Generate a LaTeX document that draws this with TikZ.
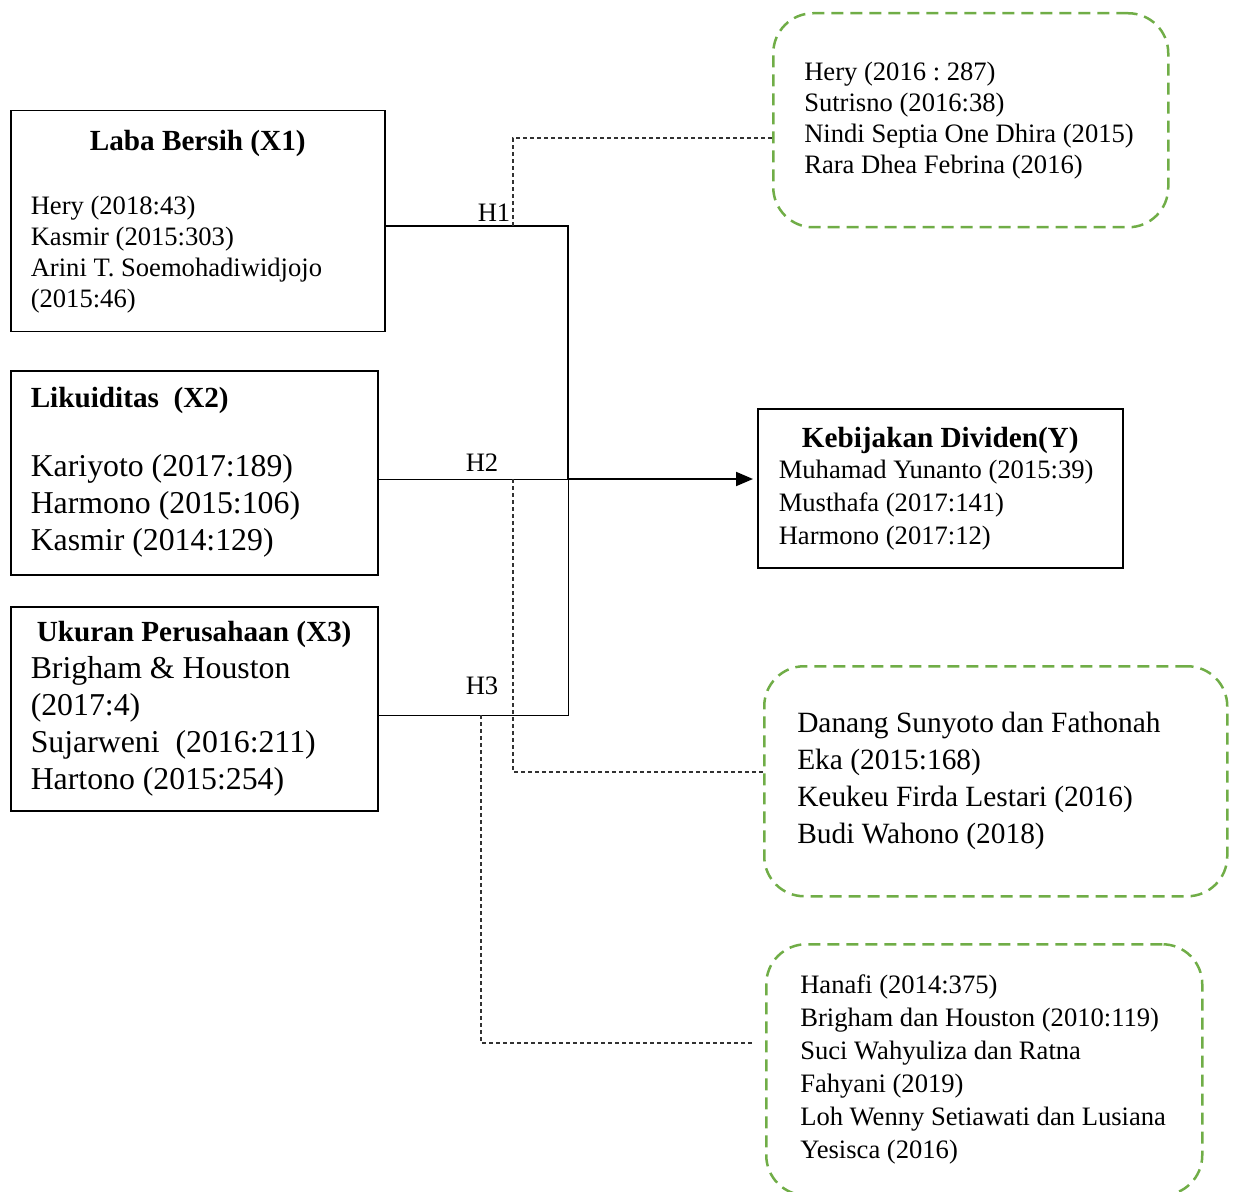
\documentclass[tikz,border=0pt]{standalone}
\usepackage{fontspec}
\setmainfont{Liberation Serif}
\frenchspacing
\usetikzlibrary{arrows.meta}
\definecolor{refgreen}{RGB}{112,173,71}
\definecolor{refgray}{RGB}{50,50,50}
\newcommand{\txtsmall}{\fontsize{13.3}{15.5}\selectfont}
\newcommand{\txtbig}{\fontsize{15.9}{18.5}\selectfont}
\newcommand{\txthead}{\fontsize{14.6}{17}\selectfont\bfseries}
\newcommand{\midtitle}[1]{\hspace*{-\leftskip}\makebox[\linewidth]{\txthead #1}}

\begin{document}
\begin{tikzpicture}[x=0.5pt, y=-0.5pt,
	varbox/.style={draw, line width=0.75pt, anchor=north west, align=flush left, inner xsep=3pt, inner ysep=0pt, font=\txtsmall},
	refbox/.style={draw=refgreen, line width=1.25pt, dash pattern=on 6pt off 3.5pt, rounded corners=20pt, anchor=north west, align=flush left, inner xsep=3pt, inner ysep=0pt, font=\txtsmall},
	mainline/.style={line width=1pt},
	thinline/.style={line width=0.5pt},
	refline/.style={draw=refgray, line width=0.65pt, dash pattern=on 2pt off 1.5pt},
	hlabel/.style={font=\txtsmall, inner sep=1pt}]
		\useasboundingbox (0,0) rectangle (1235,1192);

		\node[varbox, text width=181pt, minimum height=110.5pt] (x1) at (10, 110)
			{\leftskip=7pt \midtitle{Laba Bersih (X1)}\\[16.5pt]
			Hery (2018:43)\\ Kasmir (2015:303)\\ Arini T. Soemohadiwidjojo\\ (2015:46)\par};
		\node[varbox, text width=177.5pt, minimum height=102pt, font=\txtbig] (x2) at (10, 370)
			{\leftskip=7pt {\txthead Likuiditas\ \ (X2)}\\[16pt]
			Kariyoto (2017:189)\\ Harmono (2015:106)\\ Kasmir (2014:129)\par};
		\node[varbox, text width=177.5pt, minimum height=102pt, font=\txtbig] (x3) at (10, 606)
			{\leftskip=7pt \hspace*{3pt}{\txthead Ukuran Perusahaan (X3)}\\
			Brigham \& Houston\\ (2017:4)\\ Sujarweni\ \ (2016:211)\\ Hartono (2015:254)\par};
		\node[varbox, text width=176.5pt, minimum height=79.5pt,
			font=\fontsize{13.3}{16.5}\selectfont] (y) at (757, 408)
			{\leftskip=7.5pt \midtitle{Kebijakan Dividen(Y)}\\[-1pt]
			Muhamad Yunanto (2015:39)\\ Musthafa (2017:141)\\ Harmono (2017:12)\par};

		\node[refbox, text width=191.5pt, minimum height=107pt] (g1) at (772, 12)
			{\leftskip=12.5pt Hery (2016 : 287)\\ Sutrisno (2016:38)\\ Nindi Septia One Dhira (2015)\\ Rara Dhea Febrina (2016)\par};
		\node[refbox, text width=225.5pt, minimum height=115pt,
			font=\fontsize{14.7}{18.5}\selectfont] (g2) at (763, 665)
			{\leftskip=13.5pt Danang Sunyoto dan Fathonah\\ Eka (2015:168)\\ Keukeu Firda Lestari (2016)\\ Budi Wahono (2018)\par};
		\node[refbox, text width=212pt, minimum height=125.5pt,
			font=\fontsize{13.3}{16.5}\selectfont] (g3) at (765, 943)
			{\leftskip=14pt Hanafi (2014:375)\\ Brigham dan Houston (2010:119)\\ Suci Wahyuliza dan Ratna\\ Fahyani (2019)\\ Loh Wenny Setiawati dan Lusiana\\ Yesisca (2016)\par};

		\coordinate (jn) at (568, 479);
		\coordinate (h1) at (513, 226);
		\coordinate (h2) at (513, 479);
		\coordinate (h3) at (481, 715);
		\coordinate (r1) at (513, 138);
		\coordinate (r2) at (513, 772);
		\coordinate (r3) at (481, 1043);

		\node[hlabel] (lh1) at (494, 213) {H1};
		\node[hlabel] (lh2) at (482, 463) {H2};
		\node[hlabel] (lh3) at (482, 686) {H3};

		\draw[mainline] (x1.east |- h1) -| (jn);
		\draw[thinline] (x2.east |- jn) -- (jn);
		\draw[thinline] (x3.east |- h3) -| (jn);
		\draw[mainline, -{Triangle[length=8.5pt, width=7pt]}, shorten >=2pt] (jn) -- (jn -| y.west);

		\draw[refline] (h1) -- (r1) -- (r1 -| g1.west);
		\draw[refline] (h2) -- (r2) -- (r2 -| g2.west);
		\draw[refline, shorten >=5pt] (h3) -- (r3) -- (r3 -| g3.west);
	\end{tikzpicture}
\end{document}
